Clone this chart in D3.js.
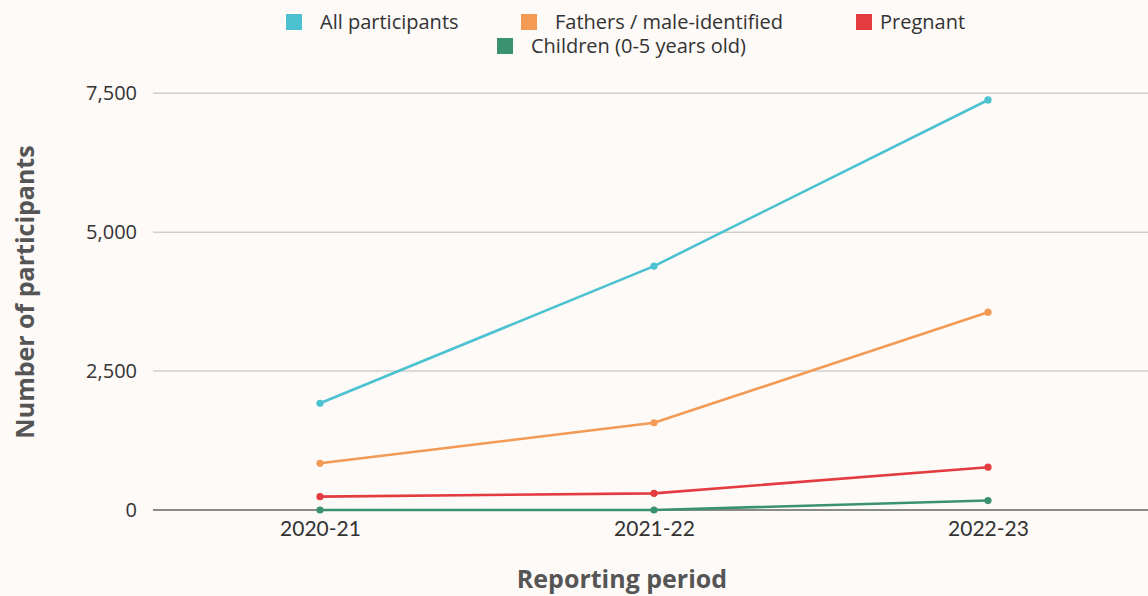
<!DOCTYPE html>
<html>
<head>
<meta charset="utf-8">
<script src="https://cdn.jsdelivr.net/npm/d3@7"></script>
<style>
  html, body { margin: 0; padding: 0; background: #fdfaf8; }
  svg { display: block; }
  text { font-family: "Open Sans", Lato, sans-serif; }
</style>
</head>
<body>
<svg id="chart" width="1148" height="596"></svg>
<script>
// Reporting periods on the x axis
const periods = ["2020-21", "2021-22", "2022-23"];

// Participants per reporting period, one array per group
const allParticipants = [1920, 4390, 7380];
const fathers = [840, 1570, 3560];
const pregnant = [240, 300, 770];
const children = [0, 0, 170];

// Y tick values
const yTicks = [0, 2500, 5000, 7500];

const seriesNames = ["All participants", "Fathers / male-identified", "Pregnant", "Children (0-5 years old)"];
const seriesColors = ["#4cc2d0", "#f39a55", "#e33b3f", "#3a9270"];
const seriesValues = [allParticipants, fathers, pregnant, children];

const series = seriesNames.map((name, i) => ({
  name, color: seriesColors[i], values: seriesValues[i]
}));

const svg = d3.select("#chart");
const plot = { left: 153, right: 1148, top: 93.3, bottom: 510 };

const x = d3.scalePoint().domain(periods).range([320, 988]);
const y = d3.scaleLinear().domain([0, 7500]).range([plot.bottom, plot.top]);

// Horizontal gridlines
svg.append("g")
  .selectAll("line")
  .data(yTicks)
  .join("line")
  .attr("x1", plot.left).attr("x2", plot.right)
  .attr("y1", d => y(d)).attr("y2", d => y(d))
  .attr("stroke", d => d === 0 ? "#8a8a8a" : "#cfcfcf")
  .attr("stroke-width", d => d === 0 ? 2 : 1.5);

// Y axis labels
const yAxis = d3.axisLeft(y).tickValues(yTicks).tickSize(0).tickPadding(0)
  .tickFormat(d3.format(","));
svg.append("g")
  .attr("transform", `translate(137,0)`)
  .call(yAxis)
  .call(g => g.select(".domain").remove())
  .call(g => g.selectAll("text")
    .attr("font-size", 20).attr("fill", "#333")
    .style("font-family", "'Open Sans', sans-serif"));

// X axis labels
const xAxis = d3.axisBottom(x).tickSize(0).tickPadding(0);
svg.append("g")
  .attr("transform", `translate(0,521)`)
  .call(xAxis)
  .call(g => g.select(".domain").remove())
  .call(g => g.selectAll("text")
    .attr("font-size", 21).attr("fill", "#333")
    .style("font-family", "Lato, sans-serif"));

// Lines and points
const line = d3.line()
  .x((d, i) => x(periods[i]))
  .y(d => y(d));

const gSeries = svg.append("g");
series.slice().reverse().forEach(s => {
  gSeries.append("path")
    .datum(s.values)
    .attr("d", line)
    .attr("fill", "none")
    .attr("stroke", s.color)
    .attr("stroke-width", 2.6)
    .attr("stroke-linejoin", "round");
  gSeries.selectAll(null)
    .data(s.values)
    .join("circle")
    .attr("cx", (d, i) => x(periods[i]))
    .attr("cy", d => y(d))
    .attr("r", 3.6)
    .attr("fill", s.color);
});

// Axis titles
svg.append("text")
  .attr("transform", `translate(34,292) rotate(-90)`)
  .attr("text-anchor", "middle")
  .attr("font-size", 25).attr("font-weight", 700).attr("fill", "#555")
  .text("Number of participants");

svg.append("text")
  .attr("x", 622).attr("y", 588)
  .attr("text-anchor", "middle")
  .attr("font-size", 25).attr("font-weight", 700).attr("fill", "#555")
  .text("Reporting period");

// Legend
const legendPos = [
  { sx: 286, tx: 320, y: 22 },
  { sx: 521, tx: 555, y: 22 },
  { sx: 856, tx: 880, y: 22 },
  { sx: 497, tx: 531, y: 46 }
];
const legend = svg.append("g");
series.forEach((s, i) => {
  const p = legendPos[i];
  legend.append("rect")
    .attr("x", p.sx).attr("y", p.y - 8)
    .attr("width", 16).attr("height", 16)
    .attr("fill", s.color);
  legend.append("text")
    .attr("x", p.tx).attr("y", p.y)
    .attr("dy", "0.35em")
    .attr("font-size", 20).attr("fill", "#333")
    .text(s.name);
});
</script>
</body>
</html>
